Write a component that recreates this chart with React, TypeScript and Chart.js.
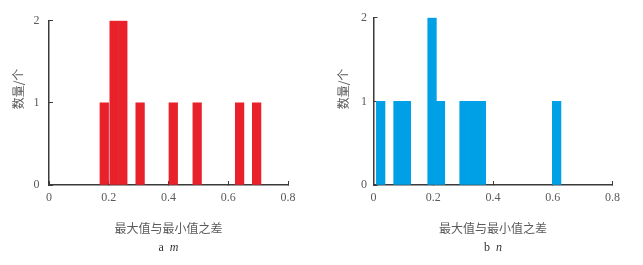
import React, { useEffect, useRef } from "react";
import { Chart, registerables } from "chart.js";

Chart.register(...registerables);

// ---- data ----
const LEFT_X = [0.185, 0.218, 0.247, 0.305, 0.416, 0.496, 0.638, 0.695];
const LEFT_COUNTS = [1, 2, 2, 1, 1, 1, 1, 1];
const RIGHT_X = [0.024, 0.082, 0.11, 0.196, 0.224, 0.303, 0.332, 0.361, 0.613];
const RIGHT_COUNTS = [1, 1, 1, 2, 1, 1, 1, 1, 1];
const X_TICKS = [0, 0.2, 0.4, 0.6, 0.8];
const Y_TICKS = [0, 1, 2];
const X_TITLE = "最大值与最小值之差";
const Y_TITLE = "数量/个";
const LEFT_CAPTION = ["a", "m"];
const RIGHT_CAPTION = ["b", "n"];

const TEXT_COLOR = "#5a5a5a";
const AXIS_COLOR = "#3a3a3a";
const SERIF = "'Liberation Serif', 'DejaVu Serif', serif";
const CJK = "'Noto Sans CJK SC', 'Noto Sans', sans-serif";

type PanelProps = {
  xs: number[];
  counts: number[];
  color: string;
  caption: string[];
  left: number;
  width: number;
  yAxisWidth: number;
  rightPad: number;
  yLabelPad: number;
  yTitleX: number;
};

function Panel(p: PanelProps) {
  const ref = useRef<HTMLCanvasElement | null>(null);
  useEffect(() => {
    const canvas = ref.current;
    if (!canvas) return;
    const overlay = {
      id: "overlay",
      afterDraw(chart: any) {
        const ctx = chart.ctx as CanvasRenderingContext2D;
        const area = chart.chartArea;
        ctx.save();
        // y axis title
        ctx.fillStyle = TEXT_COLOR;
        ctx.font = `12px ${CJK}`;
        ctx.textAlign = "center";
        ctx.textBaseline = "middle";
        ctx.translate(p.yTitleX, 89);
        ctx.rotate(-Math.PI / 2);
        ctx.fillText(Y_TITLE, 0, 0);
        ctx.restore();
        // caption
        ctx.save();
        ctx.fillStyle = "#333";
        ctx.textBaseline = "middle";
        ctx.textAlign = "left";
        const normalFont = `12px ${SERIF}`;
        const italicFont = `italic 12px ${SERIF}`;
        ctx.font = normalFont;
        const a = p.caption[0] + "  ";
        const wa = ctx.measureText(a).width;
        ctx.font = italicFont;
        const wb = ctx.measureText(p.caption[1]).width;
        const cx = (area.left + area.right) / 2;
        const start = cx - (wa + wb) / 2;
        ctx.font = normalFont;
        ctx.fillText(a, start, 248);
        ctx.font = italicFont;
        ctx.fillText(p.caption[1], start + wa, 248);
        ctx.restore();
      },
    };
    const chart = new Chart(canvas, {
      type: "bar",
      data: {
        datasets: [
          {
            data: p.xs.map((x, i) => ({ x, y: p.counts[i] })),
            backgroundColor: p.color,
            borderWidth: 0,
            barThickness: 8.6,
          } as any,
        ],
      },
      options: {
        responsive: false,
        animation: false,
        events: [],
        layout: { padding: { left: 0, top: 12, right: p.rightPad, bottom: 25 } },
        plugins: { legend: { display: false }, tooltip: { enabled: false } },
        scales: {
          x: {
            type: "linear",
            min: 0,
            max: 0.8,
            offset: false,
            afterBuildTicks: (scale: any) => {
              scale.ticks = X_TICKS.map((v) => ({ value: v }));
            },
            afterFit: (scale: any) => {
              scale.height = 55;
            },
            grid: {
              display: true,
              offset: false,
              drawOnChartArea: false,
              drawTicks: true,
              tickLength: -4,
              color: AXIS_COLOR,
              tickColor: AXIS_COLOR,
              lineWidth: 1,
            },
            border: { display: true, color: AXIS_COLOR, width: 1.5 },
            ticks: {
              padding: 10,
              color: TEXT_COLOR,
              font: { family: SERIF, size: 12 },
              maxRotation: 0,
              autoSkip: false,
              callback: (v: any) => (Number(v) === 0 ? "0" : Number(v).toFixed(1)),
            },
            title: {
              display: true,
              text: X_TITLE,
              color: TEXT_COLOR,
              font: { family: CJK, size: 12 },
              padding: { top: 0, bottom: 4.8 },
            },
          },
          y: {
            type: "linear",
            min: 0,
            max: 2,
            afterBuildTicks: (scale: any) => {
              scale.ticks = Y_TICKS.map((v) => ({ value: v }));
            },
            afterFit: (scale: any) => {
              scale.width = p.yAxisWidth;
            },
            grid: {
              display: true,
              drawOnChartArea: false,
              drawTicks: true,
              tickLength: -4,
              color: AXIS_COLOR,
              tickColor: AXIS_COLOR,
              lineWidth: 1,
            },
            border: { display: true, color: AXIS_COLOR, width: 1.5 },
            ticks: {
              padding: p.yLabelPad,
              color: TEXT_COLOR,
              font: { family: SERIF, size: 12 },
              callback: (v: any) => String(v),
            },
          },
        },
      },
      plugins: [overlay],
    } as any);
    return () => chart.destroy();
  }, []);
  return (
    <canvas
      ref={ref}
      width={p.width}
      height={265}
      style={{ position: "absolute", left: p.left, top: 0, width: p.width, height: 265 }}
    />
  );
}

export default function App() {
  return (
    <div
      style={{
        position: "fixed",
        left: 0,
        top: 0,
        width: 643,
        height: 265,
        background: "#fff",
        overflow: "hidden",
      }}
    >
      <Panel
        xs={LEFT_X}
        counts={LEFT_COUNTS}
        color="#e8212b"
        caption={LEFT_CAPTION}
        left={0}
        width={320}
        yAxisWidth={49}
        rightPad={32}
        yLabelPad={13.5}
        yTitleX={18}
      />
      <Panel
        xs={RIGHT_X}
        counts={RIGHT_COUNTS}
        color="#00a0e6"
        caption={RIGHT_CAPTION}
        left={320}
        width={323}
        yAxisWidth={53.5}
        rightPad={30.5}
        yLabelPad={10.5}
        yTitleX={23}
      />
    </div>
  );
}
